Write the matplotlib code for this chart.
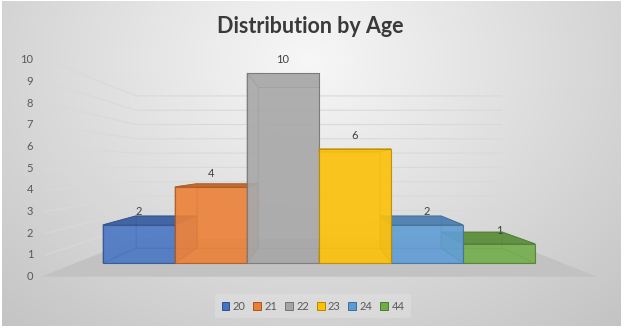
import numpy as np
import matplotlib
matplotlib.use("Agg")
import matplotlib.pyplot as plt
from matplotlib.patches import Polygon, Patch
from matplotlib.colors import to_rgb

# ---- data ----
ages = ['20', '21', '22', '23', '24', '44']
counts = [2, 4, 10, 6, 2, 1]
bar_colors = ['#4472C4', '#ED7D31', '#A5A5A5', '#FFC000', '#5B9BD5', '#70AD47']
y_ticks = list(range(0, 11))
title = 'Distribution by Age'

# ---- perspective layout (pixel space) ----
W_PX, H_PX = 625, 330
CX, YH, CAM_H = 319.0, 166.0, 5.1
CAT_W = 3.79
S_FLOOR = 21.7      # front edge of floor
S_BFRONT = 19.0     # bar front faces
S_BBACK = 16.1      # bar back faces
S_WALL = 14.3       # back wall
X_WALL = 12.8
n = len(counts)


def P(X, Y, s):
    return (CX + X * s, YH + (CAM_H - Y) * s)


def shade(c, f):
    r, g, b = to_rgb(c)
    if f < 1:
        return (r * f, g * f, b * f)
    f = f - 1
    return (r + (1 - r) * f, g + (1 - g) * f, b + (1 - b) * f)


fig = plt.figure(figsize=(W_PX / 100, H_PX / 100), dpi=100)
fig.patch.set_facecolor('white')
ax = fig.add_axes([0, 0, 1, 1])
ax.set_xlim(0, W_PX)
ax.set_ylim(H_PX, 0)
ax.axis('off')

# ---- background radial gradient ----
gx, gy = np.meshgrid(np.linspace(2, 621, 400), np.linspace(1, 326, 220))
r = np.sqrt(((gx - 310) / 420) ** 2 + ((gy - 60) / 330) ** 2)
val = (247 - 47 * np.clip(r, 0, 1.1)) / 255.0
img = np.dstack([val, val, val])
ax.imshow(img, extent=(2, 621, 326, 1), origin='upper', aspect='auto',
          interpolation='bilinear', zorder=0)

# ---- floor ----
floor = [P(-X_WALL, 0, S_FLOOR), P(X_WALL, 0, S_FLOOR),
         P(X_WALL, 0, S_WALL), P(-X_WALL, 0, S_WALL)]
ax.add_patch(Polygon(floor, closed=True, facecolor='#c2c2c2',
                     edgecolor='none', zorder=1))

# ---- gridlines (left wall + back wall) ----
for v in y_ticks[1:]:
    a = P(-X_WALL, v, S_FLOOR)
    b = P(-X_WALL, v, S_WALL)
    c = P(X_WALL, v, S_WALL)
    ax.plot([a[0] + 4, b[0], c[0]], [a[1], b[1], c[1]], color='#d9d9d9',
            lw=0.8, zorder=1, solid_capstyle='butt')

# ---- y tick labels ----
for v in y_ticks:
    x, y = P(-X_WALL, v, S_FLOOR)
    ax.text(x - 8, y, str(v), ha='right', va='center', fontsize=8,
            family='Lato', color='#595959', zorder=5)

# ---- bars ----
order = sorted(range(n), key=lambda i: -abs((i - (n - 1) / 2)))
for i in order:
    v = counts[i]
    col = bar_colors[i]
    dark = shade(col, 0.72)
    x0 = (i - n / 2) * CAT_W
    x1 = x0 + CAT_W
    f, b = S_BFRONT, S_BBACK
    FBL, FBR, FTL, FTR = P(x0, 0, f), P(x1, 0, f), P(x0, v, f), P(x1, v, f)
    BBL, BBR, BTL, BTR = P(x0, 0, b), P(x1, 0, b), P(x0, v, b), P(x1, v, b)
    inner = [[BBL, BBR, BTR, BTL], [FBL, FBR, BBR, BBL],
             [FBL, FTL, BTL, BBL], [FBR, FTR, BTR, BBR]]
    for face in inner:
        ax.add_patch(Polygon(face, closed=True, facecolor=shade(col, 0.85),
                             alpha=0.35, edgecolor='none', zorder=2))
        ax.add_patch(Polygon(face, closed=True, facecolor='none',
                             edgecolor=dark, lw=0.6, alpha=0.6, zorder=2))
    top_shade = 0.82 if v < CAM_H else 1.25
    ax.add_patch(Polygon([FTL, FTR, BTR, BTL], closed=True,
                         facecolor=shade(col, top_shade), alpha=0.9,
                         edgecolor=dark, lw=0.7, zorder=2))
    ax.add_patch(Polygon([FBL, FBR, FTR, FTL], closed=True,
                         facecolor=shade(col, 1.04), alpha=0.85,
                         edgecolor=dark, lw=0.8, zorder=2))
    lx = (FTL[0] + FTR[0]) / 2
    ax.text(lx, FTL[1] - 13, str(v), ha='center', va='center', fontsize=8,
            family='Lato', color='#404040', zorder=6)

# ---- title ----
ax.text(310.5, 33, title, ha='center', va='baseline', fontsize=15.5,
        family='Lato', fontweight='bold', color='#3a3a3a', zorder=6)

# ---- legend ----
handles = [Patch(facecolor=c, edgecolor=shade(c, 0.7), lw=0.7) for c in bar_colors]
leg = fig.legend(handles, ages, loc='center', ncol=n,
                 bbox_to_anchor=(313 / W_PX, 1 - 306 / H_PX),
                 prop={'family': 'Lato', 'size': 8},
                 handlelength=0.7, handleheight=0.7, handletextpad=0.3,
                 columnspacing=0.7, frameon=True, borderpad=0.6)
leg.get_frame().set_facecolor('white')
leg.get_frame().set_alpha(0.18)
leg.get_frame().set_edgecolor('none')
for t in leg.get_texts():
    t.set_color('#595959')

fig.savefig('out.png', dpi=100, facecolor='white')
